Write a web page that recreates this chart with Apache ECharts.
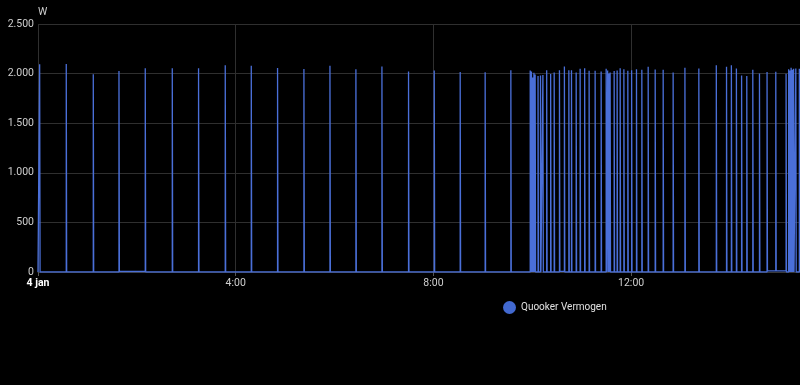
<!DOCTYPE html>
<html>
<head>
<meta charset="utf-8">
<script src="https://cdn.jsdelivr.net/npm/echarts@6/dist/echarts.min.js"></script>
<style>
html,body{margin:0;padding:0;background:#000;}
#chart{width:800px;height:385px;}
</style>
</head>
<body>
<div id="chart"></div>
<script>
// State changes: minutes since midnight (4 jan) and power in W
const changeMinutes = [
  0, 2, 2.5, 34.3, 34.8, 67.1, 67.6, 98.3, 98.8, 130.2, 130.7, 163, 163.5,
  194.9, 195.4, 227.3, 227.8, 258.9, 259.4, 290.8, 291.3, 322.8, 323.3,
  354.4, 354.9, 385.9, 386.4, 417.5, 418, 449.8, 450.3, 481, 481.5,
  512.5, 513, 542.8, 543.3, 574, 574.5,
  597.5, 598, 599, 599.5, 600.5, 601, 602, 602.5, 603.5, 604,
  607, 607.5, 610, 610.5, 612.9, 613.4,
  617.5, 618, 622.3, 622.8, 626.6, 627.1, 633, 633.5, 639, 639.5,
  644.4, 644.9, 647.6, 648.1, 653.3, 653.8, 658.1, 658.6, 663.6, 664.1,
  669, 669.5, 676.3, 676.8, 683.6, 684.1, 689.7, 690.2,
  691.5, 692, 693, 693.5, 694.5, 695, 699.4, 699.9, 703, 703.5, 706.7, 707.2,
  711.2, 711.7, 716, 716.5, 720.6, 721.1, 726.5, 727, 733, 733.5,
  740.7, 741.2, 749.2, 749.7, 758.9, 759.4, 771, 771.5, 785.3, 785.8,
  802.2, 802.7, 823.4, 823.9, 835.8, 836.3, 841.7, 842.2, 847.8, 848.3,
  854.1, 854.6, 860.4, 860.9, 867.7, 868.2, 875.8, 876.3, 885, 885.5,
  895.6, 896.1, 908.1, 908.6, 911.2, 911.7, 912.7, 913.2, 914.2, 914.7,
  915.7, 916.2, 917.2, 917.7, 919.9, 920.4, 924.2, 924.7
];
const changeWatts = [
  0, 2095, 0, 2097, 0, 1994, 0, 2027, 5, 2054, 0, 2054, 0,
  2054, 0, 2085, 0, 2078, 0, 2057, 0, 2047, 0,
  2078, 0, 2044, 0, 2071, 0, 2021, 0, 2031, 0,
  2017, 0, 2014, 0, 2034, 0,
  2030, 0, 2020, 0, 1960, 0, 2008, 0, 1990, 0,
  1975, 0, 1982, 0, 1985, 0,
  2035, 0, 1995, 0, 2012, 0, 2035, 6, 2072, 0,
  2035, 0, 2035, 0, 2012, 0, 2048, 0, 2055, 0,
  2028, 0, 2028, 0, 2020, 0, 2048, 0,
  2030, 0, 2000, 0, 2010, 0, 2025, 0, 2030, 0, 2055, 0,
  2045, 0, 2028, 0, 2035, 0, 2045, 0, 2038, 0,
  2068, 0, 2042, 0, 2038, 0, 2012, 0, 2060, 0,
  2052, 0, 2085, 0, 2068, 0, 2085, 0, 2052, 0,
  1982, 0, 1975, 0, 2038, 0, 2000, 0, 2015, 12,
  2018, 12, 1998, 0, 2045, 0, 2032, 0, 2058, 0,
  2040, 0, 2050, 0, 2052, 0, 2048, 0
];
const axisEndMinutes = 925;
const seriesName = 'Quooker Vermogen';
const unit = 'W';
const dayLabel = '4 jan';

const data = changeMinutes.map((m, i) => [m, changeWatts[i]]);
data.push([axisEndMinutes, changeWatts[changeWatts.length - 1]]);

const fmtNum = v => String(v).replace(/\B(?=(\d{3})+(?!\d))/g, '.');

const chart = echarts.init(document.getElementById('chart'), null, {renderer: 'canvas'});
chart.setOption({
  backgroundColor: '#000000',
  animation: false,
  textStyle: {fontFamily: 'Roboto, "Noto Sans", sans-serif'},
  grid: {left: 38, right: 0, top: 24, bottom: 113},
  legend: {
    left: 503, top: 301, padding: 0,
    icon: 'circle', itemWidth: 13, itemHeight: 13,
    textStyle: {color: '#e1e1e1', fontSize: 10, fontFamily: 'Roboto, sans-serif'},
    data: [seriesName]
  },
  xAxis: {
    type: 'value',
    min: 0, max: axisEndMinutes, interval: 240,
    axisLine: {show: true, lineStyle: {color: '#3a3a3a'}},
    axisTick: {show: true, length: 4, lineStyle: {color: '#555'}},
    splitLine: {show: true, lineStyle: {color: '#2f2f2f', width: 1}},
    axisLabel: {
      color: '#cfcfcf', fontSize: 10.5, margin: 6,
      showMaxLabel: false,
      formatter: v => {
        if (v % 240 !== 0) return '';
        if (v === 0) return '{b|' + dayLabel + '}';
        return (v / 60) + ':00';
      },
      rich: {b: {fontWeight: 'bold', color: '#ffffff', fontSize: 10.5}}
    }
  },
  yAxis: {
    type: 'value',
    min: 0, max: 2500, interval: 500,
    name: unit,
    nameLocation: 'end',
    nameGap: 6,
    nameTextStyle: {color: '#cfcfcf', fontSize: 10.5, align: 'left'},
    axisLine: {show: false},
    axisTick: {show: false},
    splitLine: {lineStyle: {color: '#2f2f2f', width: 1}},
    axisLabel: {color: '#cfcfcf', fontSize: 10.5, margin: 4, formatter: v => fmtNum(v)}
  },
  series: [{
    name: seriesName,
    type: 'line',
    step: 'end',
    showSymbol: false,
    symbol: 'circle',
    color: '#4269d0',
    lineStyle: {width: 1.3, color: '#4a6fd8'},
    data: data
  }]
});
</script>
</body>
</html>
